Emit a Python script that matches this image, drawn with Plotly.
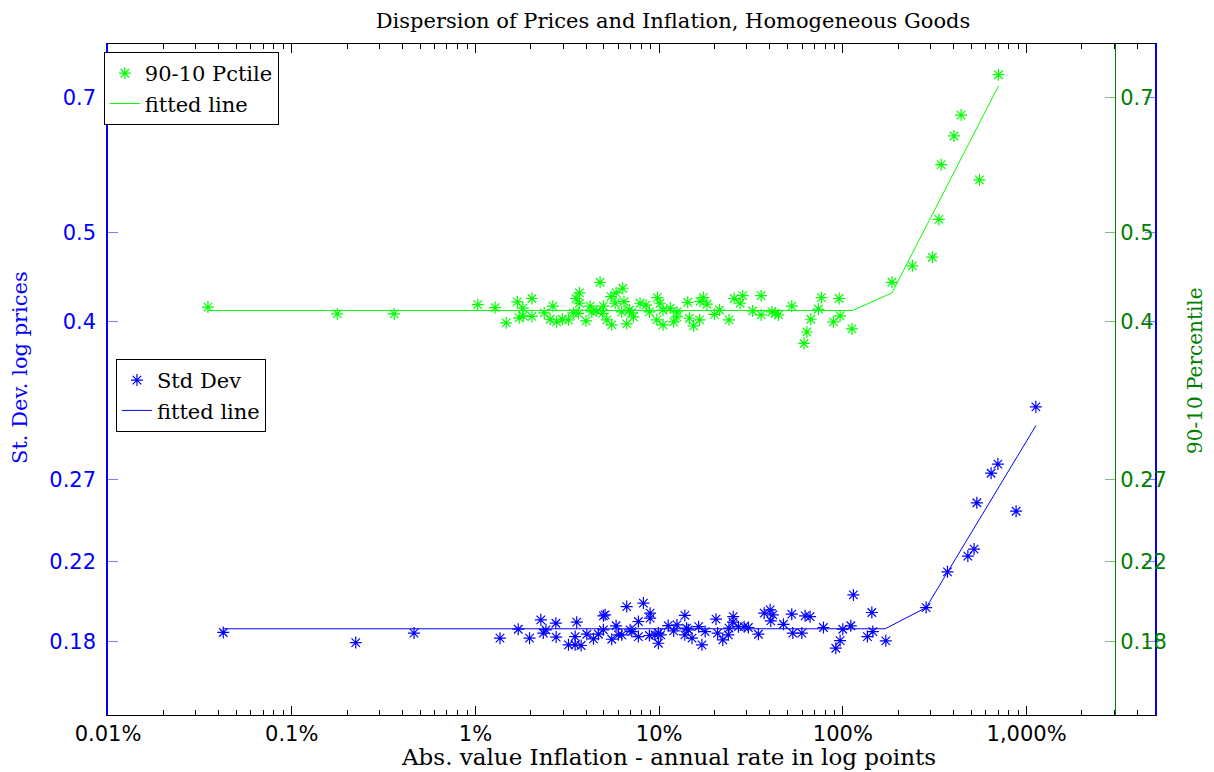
import plotly.graph_objects as go

# 90-10 percentile (right axis), x in percent
green_x = [0.035, 0.177, 0.361, 1.03, 1.28, 1.47, 1.69, 1.81, 1.73, 1.82,
           2.03, 2.03, 2.37, 2.64, 2.55, 2.77, 2.97, 3.21, 3.41, 3.53,
           3.68, 3.68, 3.63, 4.00, 4.21, 4.30, 4.58, 4.77, 4.97, 4.93,
           5.19, 5.52, 5.47, 5.83, 6.34, 5.76, 6.44, 6.26, 6.66, 6.88,
           7.10, 7.24, 7.87, 8.49, 8.85, 9.78, 9.71, 10.1, 10.5, 10.5,
           11.5, 12.0, 12.5, 12.5, 14.3, 14.6, 15.4, 16.6, 16.7, 17.4,
           18.2, 20.0, 21.3, 24.0, 25.6, 27.6, 28.5, 32.3, 35.9, 35.9,
           41.1, 42.8, 44.6, 52.7, 66.9, 73.6, 76.4, 63.7, 61.5, 88.8,
           95.4, 96.6, 112, 185, 239, 307, 333, 343, 403, 440,
           554, 703]
green_y = [0.415, 0.408, 0.408, 0.4175, 0.4145, 0.399, 0.4205, 0.414, 0.404, 0.406,
           0.424, 0.4055, 0.409, 0.416, 0.4026, 0.400, 0.4026, 0.402, 0.409, 0.424,
           0.430, 0.419, 0.4086, 0.401, 0.416, 0.410, 0.411, 0.4415, 0.416, 0.4086,
           0.402, 0.397, 0.426, 0.430, 0.435, 0.419, 0.4206, 0.410, 0.398, 0.412,
           0.409, 0.405, 0.419, 0.417, 0.410, 0.425, 0.402, 0.419, 0.397, 0.412,
           0.414, 0.400, 0.410, 0.405, 0.420, 0.4036, 0.396, 0.402, 0.421, 0.425,
           0.418, 0.4076, 0.412, 0.402, 0.424, 0.419, 0.427, 0.411, 0.427, 0.407,
           0.410, 0.4086, 0.407, 0.416, 0.4026, 0.413, 0.425, 0.390, 0.379, 0.400,
           0.424, 0.406, 0.393, 0.4415, 0.460, 0.470, 0.5165, 0.592, 0.636, 0.670,
           0.570, 0.741]
green_fit_x = [0.035, 113, 185, 703]
green_fit_y = [0.4115, 0.4115, 0.430, 0.7205]

# std dev (left axis)
blue_x = [0.0424, 0.223, 0.463, 1.36, 1.71, 1.97, 2.27, 2.42, 2.34, 2.74,
          2.75, 3.56, 3.21, 3.49, 3.76, 3.49, 4.04, 4.39, 4.67, 4.97,
          4.97, 5.08, 5.83, 5.52, 6.00, 6.66, 6.95, 7.71, 8.21, 7.71,
          6.26, 7.10, 8.93, 8.93, 8.85, 9.50, 9.90, 9.90, 10.2, 11.2,
          12.0, 12.5, 13.8, 13.8, 14.4, 14.1, 15.1, 16.4, 17.8, 17.1,
          20.4, 20.8, 22.2, 23.8, 24.0, 25.2, 25.3, 27.0, 29.0, 30.6,
          34.7, 37.3, 40.2, 41.6, 40.5, 47.5, 52.7, 53.4, 59.8, 62.3,
          66.3, 78.4, 99.9, 96.6, 91.5, 110.5, 114.1, 136.0, 145.6, 143.8,
          171.3, 284, 371, 479, 518, 536, 877, 641, 698, 1123]
blue_y = [0.1843, 0.1797, 0.1840, 0.1817, 0.1858, 0.1817, 0.1902, 0.1855, 0.1840, 0.1886,
          0.1822, 0.1891, 0.1787, 0.1787, 0.1784, 0.1824, 0.1835, 0.1814, 0.1835, 0.1855,
          0.1921, 0.1926, 0.1874, 0.1812, 0.1832, 0.1966, 0.1855, 0.1894, 0.1983, 0.1824,
          0.1832, 0.1847, 0.1910, 0.1934, 0.1829, 0.1832, 0.1840, 0.1794, 0.1832, 0.1875,
          0.1850, 0.1878, 0.1923, 0.1832, 0.1855, 0.1863, 0.1817, 0.1870, 0.1847, 0.1787,
          0.1905, 0.1840, 0.1809, 0.1832, 0.1863, 0.1891, 0.1917, 0.1870, 0.1870, 0.1866,
          0.1835, 0.1934, 0.1950, 0.1926, 0.1897, 0.1881, 0.1929, 0.1840, 0.1840, 0.1921,
          0.1917, 0.1866, 0.1858, 0.1806, 0.1772, 0.1874, 0.2024, 0.1824, 0.1847, 0.1937,
          0.1805, 0.1961, 0.2144, 0.2230, 0.2269, 0.2547, 0.2494, 0.2742, 0.2805, 0.3236]
blue_fit_x = [0.0424, 170, 284, 1123]
blue_fit_y = [0.186, 0.186, 0.1961, 0.3087]

x_ticks = [0.01, 0.1, 1, 10, 100, 1000]
x_labels = ["0.01%", "0.1%", "1%", "10%", "100%", "1,000%"]
y_ticks = [0.18, 0.22, 0.27, 0.4, 0.5, 0.7]
y_labels = ["0.18", "0.22", "0.27", "0.4", "0.5", "0.7"]
x_minor = [k * 10 ** e for e in range(-2, 4) for k in range(2, 10) if k * 10 ** e < 5000]

BLUE = "#0000ff"
GREEN = "#00ff00"
DKGREEN = "#008000"
SERIF = "DejaVu Serif"
SANS = "DejaVu Sans"

fig = go.Figure()
fig.add_trace(go.Scatter(x=green_x, y=green_y, mode="markers", name="90-10 Pctile",
                         yaxis="y2", legend="legend",
                         marker=dict(symbol="asterisk-open", size=10, color=GREEN,
                                     line=dict(color=GREEN, width=1.2))))
fig.add_trace(go.Scatter(x=green_fit_x, y=green_fit_y, mode="lines", name="fitted line",
                         yaxis="y2", legend="legend", line=dict(color=GREEN, width=1)))
fig.add_trace(go.Scatter(x=blue_x, y=blue_y, mode="markers", name="Std Dev",
                         legend="legend2",
                         marker=dict(symbol="asterisk-open", size=10, color=BLUE,
                                     line=dict(color=BLUE, width=1.2))))
fig.add_trace(go.Scatter(x=blue_fit_x, y=blue_fit_y, mode="lines", name="fitted line",
                         legend="legend2", line=dict(color=BLUE, width=1)))

# page body has an 8px margin, so the figure is made 8px smaller
W, H = 1206, 764
yr = [-0.8239, -0.0969]
fig.update_layout(
    width=W, height=H,
    margin=dict(l=100, r=59, t=36, b=57),
    plot_bgcolor="white", paper_bgcolor="white",
    showlegend=True,
    title=dict(text="Dispersion of Prices and Inflation, Homogeneous Goods",
               x=665 / W, xanchor="center", y=1 - 13 / H, yanchor="middle",
               font=dict(family=SERIF, size=21, color="black")),
    xaxis=dict(type="log", range=[-2, 3.699], tickvals=x_ticks, ticktext=x_labels,
               ticks="inside", ticklen=9, tickcolor="black", showline=True,
               linecolor="black", linewidth=1, mirror="ticks", showgrid=False,
               zeroline=False, tickfont=dict(family=SANS, size=21, color="black"),
               minor=dict(tickmode="array", tickvals=x_minor, ticks="inside",
                          ticklen=5, tickcolor="black", showgrid=False)),
    yaxis=dict(type="log", range=yr, tickvals=y_ticks, ticktext=y_labels,
               ticks="inside", ticklen=10, tickcolor="rgba(0,0,255,0.5)",
               showline=True, linecolor=BLUE, linewidth=1.5, mirror="ticks",
               showgrid=False, zeroline=False, ticklabelstandoff=6,
               tickfont=dict(family=SANS, size=21, color=BLUE)),
    yaxis2=dict(type="log", range=yr, tickvals=y_ticks, ticktext=y_labels,
                overlaying="y", side="right", anchor="free", position=1007 / 1047,
                ticks="inside", ticklen=10, tickcolor="rgba(0,128,0,0.5)",
                showline=True, linecolor=DKGREEN, linewidth=1, showgrid=False,
                zeroline=False, tickfont=dict(family=SANS, size=21, color=DKGREEN)),
    legend=dict(x=-0.004, y=0.988, xanchor="left", yanchor="top", bgcolor="white",
                bordercolor="black", borderwidth=1, tracegroupgap=0,
                font=dict(family=SERIF, size=21, color="black")),
    legend2=dict(x=0.0076, y=0.5306, xanchor="left", yanchor="top", bgcolor="white",
                 bordercolor="black", borderwidth=1, tracegroupgap=0,
                 font=dict(family=SERIF, size=21, color="black")),
    annotations=[
        dict(text="Abs. value Inflation - annual rate in log points", xref="paper",
             yref="paper", x=560 / 1047, y=-42 / 671, xanchor="center",
             yanchor="middle", showarrow=False,
             font=dict(family=SERIF, size=23, color="black")),
        dict(text="St. Dev. log prices", xref="paper", yref="paper",
             x=-88 / 1047, y=347 / 671, xanchor="center", yanchor="middle",
             textangle=-90, showarrow=False,
             font=dict(family=SERIF, size=21, color=BLUE)),
        dict(text="90-10 Percentile", xref="paper", yref="paper",
             x=1087 / 1047, y=344 / 671, xanchor="center", yanchor="middle",
             textangle=-90, showarrow=False,
             font=dict(family=SERIF, size=20, color=DKGREEN)),
    ],
)

fig.write_html("out.html")
